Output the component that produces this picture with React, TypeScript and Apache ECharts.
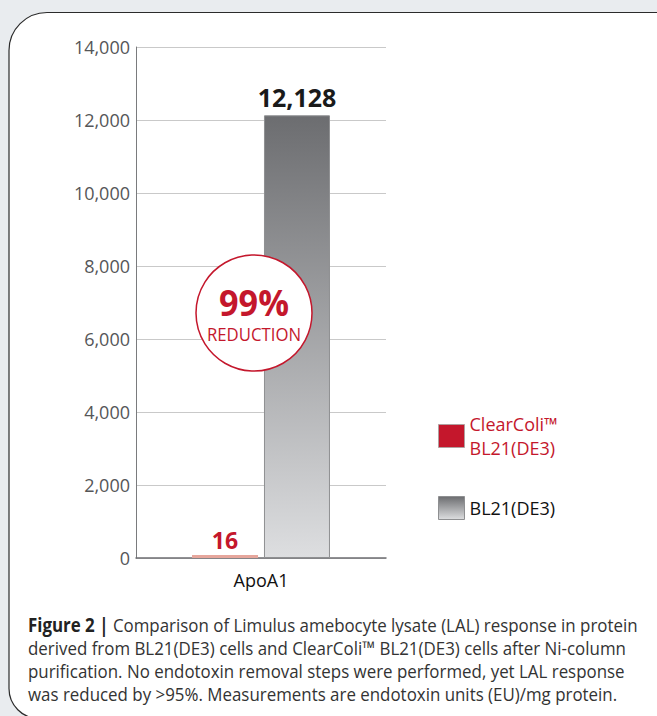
import React, { useEffect, useRef } from "react";
import * as echarts from "echarts";

const categories = ["ApoA1"];
const clearColiValues = [16];
const bl21Values = [12128];
const yTicks = { min: 0, max: 14000, interval: 2000 };
const seriesNames = ["ClearColi™\nBL21(DE3)", "BL21(DE3)"];
const reductionText = ["99%", "REDUCTION"];
const captionBold = "Figure 2 |";
const captionLines = [
  " Comparison of Limulus amebocyte lysate (LAL) response in protein",
  "derived from BL21(DE3) cells and ClearColi™ BL21(DE3) cells after Ni-column",
  "purification. No endotoxin removal steps were performed, yet LAL response",
  "was reduced by >95%. Measurements are endotoxin units (EU)/mg protein.",
];

const RED = "#c4172c";
const SANS = '"Open Sans", "Noto Sans", sans-serif';

export default function App() {
  const ref = useRef<HTMLDivElement>(null);
  useEffect(() => {
    if (!ref.current) return;
    const chart = echarts.init(ref.current, null, { renderer: "svg" });
    const grayGrad = new echarts.graphic.LinearGradient(0, 0, 0, 1, [
      { offset: 0, color: "#6c6d70" },
      { offset: 1, color: "#dddee0" },
    ]);
    chart.setOption({
      animation: false,
      backgroundColor: "#e9ecef",
      grid: { left: 136, right: 271, top: 47, bottom: 158 },
      xAxis: {
        type: "category",
        data: categories,
        axisLine: { lineStyle: { color: "#6d6e71", width: 1.5 } },
        axisTick: { show: false },
        axisLabel: { color: "#111", fontSize: 18, fontFamily: SANS, margin: 13 },
      },
      yAxis: {
        type: "value",
        min: yTicks.min,
        max: yTicks.max,
        interval: yTicks.interval,
        axisLine: { show: true, lineStyle: { color: "#7a7b7d", width: 1 } },
        axisTick: { show: false },
        splitLine: { lineStyle: { color: "#c9c9c9", width: 1 } },
        axisLabel: {
          color: "#555658",
          fontSize: 18,
          fontFamily: SANS,
          margin: 6,
          formatter: (v: number) => v.toLocaleString("en-US"),
        },
      },
      legend: {
        orient: "vertical",
        left: 433,
        top: 393,
        itemWidth: 26,
        itemHeight: 23,
        itemGap: 22,
        icon: "rect",
        selectedMode: false,
        data: [
          {
            name: seriesNames[0],
            textStyle: { color: RED, fontSize: 18, fontFamily: SANS, lineHeight: 24, padding: [28, 0, 0, 0] },
            itemStyle: { color: RED, borderColor: "#b0a0a0", borderWidth: 1 },
          },
          {
            name: seriesNames[1],
            textStyle: { color: "#111", fontSize: 18, fontFamily: SANS },
          },
        ],
        itemStyle: { borderWidth: 1 },
      },
      series: [
        {
          name: seriesNames[0],
          type: "bar",
          data: clearColiValues,
          barWidth: 66,
          barGap: "9%",
          barMinHeight: 3,
          itemStyle: { color: "#e6a69c" },
          label: {
            show: true,
            position: "top",
            distance: 4,
            color: RED,
            fontSize: 23,
            fontWeight: "bold",
            fontFamily: SANS,
          },
        },
        {
          name: seriesNames[1],
          type: "bar",
          data: bl21Values,
          barWidth: 66,
          itemStyle: { color: grayGrad, borderColor: "#8e8f91", borderWidth: 1 },
          label: {
            show: true,
            position: "top",
            distance: 6,
            color: "#1a1a1a",
            fontSize: 25,
            fontWeight: "bold",
            fontFamily: SANS,
            formatter: (p: any) => Number(p.value).toLocaleString("en-US"),
          },
        },
      ],
      graphic: [
        {
          type: "rect",
          z: -10,
          silent: true,
          shape: { x: 9, y: 12.5, width: 680, height: 706, r: [38, 30, 30, 30] },
          style: { fill: "#ffffff", stroke: "#2b2b2b", lineWidth: 1.2 },
        },
        {
          type: "circle",
          z: 100,
          shape: { cx: 254, cy: 313, r: 58 },
          style: { fill: "#ffffff", stroke: RED, lineWidth: 1.5 },
        },
        {
          type: "text",
          z: 101,
          x: 254,
          y: 302,
          scaleX: 0.95,
          style: {
            text: reductionText[0],
            fill: RED,
            font: `bold 36px ${SANS}`,
            align: "center",
            verticalAlign: "middle",
          },
        },
        {
          type: "text",
          z: 101,
          x: 254,
          y: 334,
          scaleX: 0.93,
          style: {
            text: reductionText[1],
            fill: RED,
            font: `18px ${SANS}`,
            align: "center",
            verticalAlign: "middle",
          },
        },
        {
          type: "text",
          z: 101,
          x: 28,
          y: 613,
          scaleX: 0.89,
          style: {
            text: `{b|${captionBold}}` + captionLines.join("\n"),
            fill: "#333",
            font: `19px ${SANS}`,
            lineHeight: 23,
            rich: {
              b: { font: `bold 19px ${SANS}`, fill: "#222", lineHeight: 23 },
            },
          },
        },
      ],
    });
    return () => chart.dispose();
  }, []);
  return (
    <div
      ref={ref}
      style={{ position: "fixed", left: 0, top: 0, width: 657, height: 716 }}
    />
  );
}
